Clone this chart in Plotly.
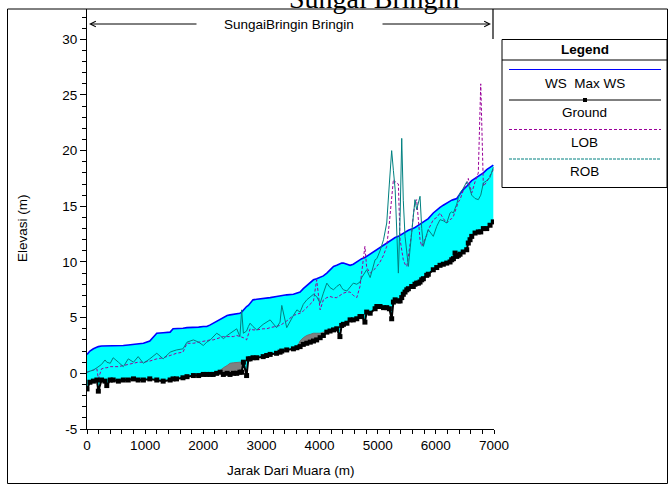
import plotly.graph_objects as go

# River stations (m from the mouth) and profile elevations (m)
station = [0, 50, 110, 170, 195, 250, 310, 340, 400, 450, 540, 625, 710, 800, 880, 970,
           1080, 1200, 1310, 1430, 1480, 1540, 1650, 1720, 1830, 1920, 2000, 2060, 2120,
           2170, 2230, 2290, 2345, 2410, 2460, 2520, 2575, 2630, 2660, 2690, 2745, 2775,
           2805, 2855, 2920, 3030, 3090, 3150, 3260, 3320, 3350, 3435, 3550, 3610, 3665,
           3720, 3780, 3840, 3895, 3950, 4010, 4065, 4125, 4180, 4240, 4295, 4350, 4380,
           4410, 4470, 4525, 4580, 4640, 4695, 4725, 4780, 4810, 4870, 4955, 4985, 5040,
           5100, 5155, 5200, 5240, 5270, 5300, 5355, 5385, 5413, 5440, 5470, 5500, 5527,
           5584, 5612, 5641, 5670, 5700, 5728, 5757, 5785, 5843, 5870, 5956, 6015, 6072,
           6128, 6187, 6244, 6273, 6302, 6330, 6360, 6387, 6416, 6470, 6531, 6558, 6588,
           6617, 6674, 6730, 6772, 6817, 6875, 6932, 6988]

ground = [-1.4, -0.8, -0.7, -0.6, -1.6, -0.6, -0.7, -1.1, -0.6, -0.6, -0.7, -0.6, -0.6, -0.5,
          -0.6, -0.6, -0.5, -0.6, -0.7, -0.6, -0.5, -0.5, -0.4, -0.3, -0.2, -0.2, -0.1, -0.1,
          -0.1, -0.1, 0.0, 0.1, -0.1, 0.0, -0.1, 0.0, 0.0, 0.1, 0.1, 1.0, -0.2, 1.3, 1.3, 1.4,
          1.4, 1.5, 1.6, 1.7, 1.8, 1.9, 2.0, 2.1, 2.2, 2.3, 2.4, 2.6, 2.7, 2.8, 2.9, 3.0, 3.2,
          3.4, 3.7, 3.8, 3.9, 4.0, 3.3, 4.3, 4.4, 4.5, 4.8, 4.8, 4.9, 5.1, 5.1, 4.6, 5.5, 5.4,
          5.8, 6.0, 6.0, 5.9, 5.9, 5.8, 4.9, 6.4, 6.6, 6.5, 6.5, 6.8, 7.1, 7.3, 7.5, 7.6, 7.8,
          7.8, 8.0, 8.1, 8.1, 8.2, 8.4, 8.5, 8.8, 8.9, 9.3, 9.5, 9.7, 9.8, 9.9, 10.0, 10.2,
          10.3, 10.8, 10.5, 10.6, 10.7, 10.9, 11.1, 11.7, 12.0, 12.3, 12.6, 12.7, 12.7, 13.0,
          13.0, 13.3, 13.6]

ws_max = [1.7, 2.0, 2.2, 2.35, 2.4, 2.45, 2.45, 2.45, 2.45, 2.5, 2.5, 2.5, 2.55, 2.6, 2.65,
          2.7, 2.9, 3.6, 3.65, 3.7, 4.0, 4.0, 4.05, 4.1, 4.1, 4.15, 4.2, 4.2, 4.35, 4.5, 4.7,
          4.9, 5.0, 5.2, 5.25, 5.3, 5.35, 5.4, 5.5, 5.7, 6.0, 6.1, 6.3, 6.6, 6.65, 6.7, 6.75,
          6.8, 6.9, 6.95, 7.0, 7.05, 7.1, 7.2, 7.3, 7.6, 7.9, 8.2, 8.4, 8.5, 8.6, 8.75, 9.0,
          9.3, 9.6, 9.7, 9.85, 9.9, 9.9, 9.8, 9.7, 9.8, 10.0, 10.2, 10.3, 10.4, 10.5, 10.7,
          11.0, 11.1, 11.3, 11.5, 11.7, 11.85, 12.0, 12.1, 12.2, 12.3, 12.4, 12.5, 12.6, 12.7,
          12.8, 12.85, 12.95, 13.0, 13.1, 13.2, 13.3, 13.4, 13.5, 13.6, 13.8, 13.9, 14.4,
          14.7, 14.9, 15.1, 15.3, 15.5, 15.55, 15.6, 15.65, 15.7, 15.9, 16.1, 16.5, 16.8,
          17.0, 17.15, 17.3, 17.5, 17.65, 17.8, 18.0, 18.3, 18.5, 18.7]

lob = [0.1, 0.2, 0.3, 0.4, -0.5, 0.4, 0.5, 0.5, 0.6, 0.6, 0.6, 0.7, 0.8, 0.9, 1.0, 1.0, 1.1,
       1.3, 1.4, 1.6, 1.7, 1.8, 1.9, 2.7, 2.7, 2.8, 2.9, 3.0, 3.0, 3.0, 3.1, 3.2, 3.3, 3.3,
       3.3, 3.3, 3.4, 3.3, 3.3, 3.2, 3.0, 3.6, 4.0, 3.9, 3.9, 4.0, 4.0, 4.1, 4.2, 4.3, 4.4,
       4.7, 5.2, 5.3, 5.4, 5.6, 5.9, 6.2, 6.5, 8.4, 5.7, 6.6, 6.8, 6.9, 6.8, 6.8, 7.0, 7.1,
       7.2, 7.3, 7.3, 7.0, 6.8, 7.8, 9.0, 11.4, 9.5, 9.0, 9.4, 9.6, 10.0, 10.6, 11.4, 13.5,
       16.0, 17.4, 17.2, 17.0, 12.0, 10.8, 10.2, 9.8, 9.6, 10.5, 12.6, 14.2, 15.3, 15.6,
       13.8, 12.0, 11.4, 11.7, 12.4, 12.9, 13.8, 14.0, 14.4, 13.9, 13.5, 13.8, 13.9, 14.1,
       14.6, 15.1, 15.4, 15.6, 16.4, 17.1, 17.5, 16.8, 16.2, 17.2, 18.0, 26.0, 16.8, 17.2,
       17.7, 18.3]

rob = [0.1, 0.2, 0.3, 0.5, 0.6, 0.8, 1.2, 1.0, 0.9, 1.4, 1.0, 0.6, 1.3, 1.0, 1.5, 0.9, 1.3,
       1.8, 1.3, 1.9, 2.0, 2.1, 2.2, 2.8, 3.0, 2.8, 2.5, 2.8, 3.0, 3.3, 3.6, 3.4, 3.1, 3.4,
       3.6, 3.8, 4.0, 3.3, 5.7, 3.6, 3.8, 4.2, 4.5, 4.2, 3.9, 4.4, 4.6, 4.8, 4.1, 4.6, 6.1,
       4.1, 5.2, 5.7, 5.5, 6.2, 6.6, 6.9, 7.1, 6.9, 6.3, 7.2, 8.1, 7.7, 7.5, 7.8, 8.0, 7.7,
       7.5, 7.4, 7.8, 8.1, 8.0, 8.2, 8.6, 9.0, 9.3, 8.6, 10.2, 10.3, 11.0, 12.0, 13.5, 17.0,
       20.0, 18.2, 16.5, 9.0, 14.0, 21.1, 15.5, 12.3, 10.6, 9.6, 12.6, 14.0, 15.6, 14.7,
       15.5, 15.9, 13.0, 11.4, 12.5, 12.9, 12.3, 13.2, 13.8, 13.7, 13.5, 14.4, 14.5, 14.4,
       14.8, 15.2, 15.8, 16.2, 16.6, 17.2, 17.0, 16.4, 16.0, 15.7, 15.6, 16.0, 17.1, 17.3,
       17.6, 18.5]

# Grey bands lying on the bed in two reaches
grey1_station = [2230, 2290, 2345, 2410, 2460, 2520, 2575, 2630, 2660, 2690]
grey1_top = [0.0, 0.3, 0.5, 0.7, 0.9, 0.95, 1.0, 1.0, 1.0, 1.0]
grey1_bottom = [0.0, 0.1, -0.1, 0.0, -0.1, 0.0, 0.0, 0.1, 0.1, 1.0]
grey2_station = [3610, 3665, 3720, 3780, 3840, 3895, 3950, 4010, 4065, 4125]
grey2_top = [2.3, 2.9, 3.2, 3.4, 3.5, 3.6, 3.6, 3.6, 3.7, 3.7]
grey2_bottom = [2.3, 2.4, 2.6, 2.7, 2.8, 2.9, 3.0, 3.2, 3.4, 3.7]

x_ticks = [0, 1000, 2000, 3000, 4000, 5000, 6000, 7000]
y_ticks = [-5, 0, 5, 10, 15, 20, 25, 30]

FIG_W, FIG_H = 668, 485
L, R, T, B = 87, 494, 9, 429          # plot-area edges in pixels
PW, PH = R - L, B - T


def fx(px):
    return (px - L) / PW


def fy(py):
    return (B - py) / PH


SANS = "Liberation Sans, Arial, sans-serif"
SERIF = "Liberation Serif, Times New Roman, serif"
LOB_COLOR = "#990099"
ROB_COLOR = "#008080"

fig = go.Figure()

# base of the water fill
fig.add_trace(go.Scatter(x=station, y=ground, mode="lines", line=dict(width=0),
                         hoverinfo="skip", showlegend=False))
# water surface with cyan fill down to the bed
fig.add_trace(go.Scatter(x=station, y=ws_max, mode="lines", name="WS  Max WS",
                         line=dict(color="#0000FF", width=1.6),
                         fill="tonexty", fillcolor="#00FFFF", showlegend=False))
fig.add_trace(go.Scatter(x=station, y=lob, mode="lines", name="LOB",
                         line=dict(color=LOB_COLOR, width=1, dash="3px,2px"),
                         showlegend=False))
fig.add_trace(go.Scatter(x=station, y=rob, mode="lines", name="ROB",
                         line=dict(color=ROB_COLOR, width=1), showlegend=False))

for gs, gt, gb in [(grey1_station, grey1_top, grey1_bottom),
                   (grey2_station, grey2_top, grey2_bottom)]:
    fig.add_trace(go.Scatter(x=gs + gs[::-1], y=gt + gb[::-1], mode="lines",
                             fill="toself", fillcolor="#808080",
                             line=dict(color="#707070", width=1),
                             hoverinfo="skip", showlegend=False))

fig.add_trace(go.Scatter(x=station, y=ground, mode="lines+markers", name="Ground",
                         line=dict(color="black", width=2),
                         marker=dict(symbol="square", size=5, color="black"),
                         showlegend=False))

shapes = []
annotations = []

# outer frame and the short reach marker on the right
shapes.append(dict(type="rect", xref="paper", yref="paper",
                   x0=fx(7.5), x1=fx(667.5), y0=fy(483.5), y1=fy(9),
                   line=dict(color="black", width=1)))
shapes.append(dict(type="line", xref="paper", yref="paper",
                   x0=fx(493), x1=fx(493), y0=fy(9), y1=fy(39),
                   line=dict(color="black", width=1.2)))

# reach arrows with the reach name between them
annotations.append(dict(xref="paper", yref="paper", x=fx(89), y=fy(24), text="",
                        showarrow=True, ax=109, ay=0, arrowhead=5, arrowsize=1.1,
                        arrowwidth=1, arrowcolor="black"))
annotations.append(dict(xref="paper", yref="paper", x=fx(491), y=fy(24), text="",
                        showarrow=True, ax=-110, ay=0, arrowhead=5, arrowsize=1.1,
                        arrowwidth=1, arrowcolor="black"))
annotations.append(dict(xref="paper", yref="paper", x=fx(289), y=fy(25),
                        text="SungaiBringin Bringin", showarrow=False,
                        xanchor="center", yanchor="middle",
                        font=dict(family=SANS, size=13.5, color="black")))

# chart title, partly above the page edge
annotations.append(dict(xref="paper", yref="paper", x=fx(374), y=fy(-2),
                        text="Sungai Bringin", showarrow=False,
                        xanchor="center", yanchor="middle",
                        font=dict(family=SERIF, size=28, color="black")))

# axis titles
annotations.append(dict(xref="paper", yref="paper", x=fx(23), y=fy(228),
                        text="Elevasi (m)", showarrow=False, textangle=-90,
                        xanchor="center", yanchor="middle",
                        font=dict(family=SANS, size=13.5, color="black")))
annotations.append(dict(xref="paper", yref="paper", x=fx(291), y=fy(470),
                        text="Jarak Dari Muara (m)", showarrow=False,
                        xanchor="center", yanchor="middle",
                        font=dict(family=SANS, size=13.5, color="black")))

# legend box
LX0, LX1, LY0, LY1 = 502, 667, 39.5, 187.5
shapes.append(dict(type="rect", xref="paper", yref="paper",
                   x0=fx(LX0), x1=fx(LX1), y0=fy(LY1), y1=fy(LY0),
                   fillcolor="white", line=dict(color="black", width=1)))
shapes.append(dict(type="line", xref="paper", yref="paper",
                   x0=fx(LX0), x1=fx(LX1), y0=fy(60), y1=fy(60),
                   line=dict(color="black", width=1)))
annotations.append(dict(xref="paper", yref="paper", x=fx(584.5), y=fy(50),
                        text="<b>Legend</b>", showarrow=False,
                        xanchor="center", yanchor="middle",
                        font=dict(family=SANS, size=13.5, color="black")))

legend_rows = [
    ("WS\u00a0\u00a0Max\u00a0WS", 69.5, 83, dict(color="#0000FF", width=1.2)),
    ("Ground", 100, 112.5, dict(color="black", width=1)),
    ("LOB", 129.5, 142, dict(color=LOB_COLOR, width=1, dash="3px,2px")),
    ("ROB", 159, 172, dict(color=ROB_COLOR, width=1, dash="3px,1px")),
]
for label, ly, ty, style in legend_rows:
    shapes.append(dict(type="line", xref="paper", yref="paper",
                       x0=fx(509), x1=fx(661), y0=fy(ly), y1=fy(ly), line=style))
    annotations.append(dict(xref="paper", yref="paper", x=fx(584.5), y=fy(ty),
                            text=label, showarrow=False,
                            xanchor="center", yanchor="middle",
                            font=dict(family=SANS, size=13.5, color="black")))
# ground marker in the legend
shapes.append(dict(type="rect", xref="paper", yref="paper",
                   x0=fx(583), x1=fx(587), y0=fy(102), y1=fy(98),
                   fillcolor="black", line=dict(color="black", width=0)))

fig.update_layout(
    width=FIG_W, height=FIG_H,
    margin=dict(l=L, r=FIG_W - R, t=T, b=FIG_H - B, pad=0),
    paper_bgcolor="white", plot_bgcolor="white",
    showlegend=False,
    shapes=shapes, annotations=annotations,
    font=dict(family=SANS, size=13.5, color="black"),
)
fig.update_xaxes(range=[0, 7000], tickvals=x_ticks, ticktext=[str(v) for v in x_ticks],
                 showline=True, linecolor="black", linewidth=1, showgrid=False,
                 zeroline=False, ticks="outside", ticklen=4, tickcolor="black",
                 minor=dict(dtick=200, ticks="outside", ticklen=4, tickcolor="black"),
                 tickfont=dict(family=SANS, size=13.5, color="black"))
fig.update_yaxes(range=[-5, 32.72], tickvals=y_ticks, ticktext=[str(v) for v in y_ticks],
                 showline=True, linecolor="black", linewidth=1, showgrid=False,
                 zeroline=False, ticks="outside", ticklen=6, tickcolor="black",
                 minor=dict(dtick=1, ticks="outside", ticklen=4, tickcolor="black"),
                 tickfont=dict(family=SANS, size=13.5, color="black"))

fig.write_html("out.html")
